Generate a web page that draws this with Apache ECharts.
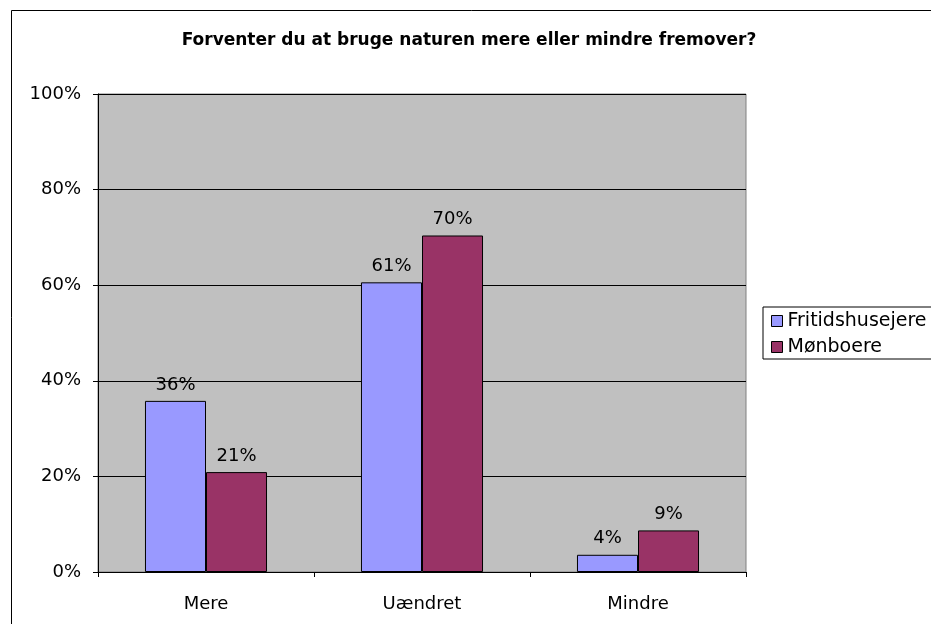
<!DOCTYPE html>
<html>
<head>
<meta charset="utf-8">
<script src="https://cdn.jsdelivr.net/npm/echarts@6/dist/echarts.min.js"></script>
<style>
  html, body { margin: 0; padding: 0; background: #fff; }
  #chart { width: 931px; height: 624px; }
</style>
</head>
<body>
<div id="chart"></div>
<script>
var categories = ['Mere', 'Uændret', 'Mindre'];
var fritidshusejere = [35.8, 60.6, 3.6];
var moenboere = [20.9, 70.4, 8.7];
var seriesNames = ['Fritidshusejere', 'Mønboere'];

var font = 'DejaVu Sans, Verdana, sans-serif';
var chart = echarts.init(document.getElementById('chart'), null, { renderer: 'canvas' });

function labelFmt(p) {
  return Math.round(p.value) + '%';
}

chart.setOption({
  animation: false,
  backgroundColor: '#fff',
  title: {
    text: 'Forventer du at bruge naturen mere eller mindre fremover?',
    left: 464,
    textAlign: 'center',
    top: 27,
    textStyle: { fontFamily: font, fontSize: 17, fontWeight: 'bold', color: '#000' }
  },
  graphic: [{
    type: 'rect',
    shape: { x: 11.5, y: 10.5, width: 1000, height: 1000 },
    style: { fill: null, stroke: '#000', lineWidth: 1 },
    silent: true
  }],
  legend: {
    data: seriesNames,
    orient: 'vertical',
    left: 763,
    top: 307,
    padding: [4, 60, 2, 8],
    itemWidth: 11,
    itemHeight: 11,
    itemGap: 6,
    borderColor: '#000',
    borderWidth: 1,
    icon: 'rect',
    itemStyle: { borderColor: '#000', borderWidth: 1 },
    textStyle: { fontFamily: font, fontSize: 19, lineHeight: 20, color: '#000' }
  },
  grid: {
    left: 98,
    top: 94,
    width: 648,
    height: 478,
    show: true,
    backgroundColor: '#c0c0c0',
    borderColor: '#808080',
    borderWidth: 1
  },
  xAxis: {
    type: 'category',
    data: categories,
    axisLine: { lineStyle: { color: '#000' } },
    axisTick: { show: true, length: 5, lineStyle: { color: '#000' } },
    axisLabel: { fontFamily: font, fontSize: 18, color: '#000', margin: 23 }
  },
  yAxis: {
    type: 'value',
    min: 0,
    max: 100,
    interval: 20,
    axisLine: { show: true, lineStyle: { color: '#000' } },
    axisTick: { show: true, length: 5, lineStyle: { color: '#000' } },
    axisLabel: { fontFamily: font, fontSize: 18, color: '#000', margin: 17, formatter: '{value}%' },
    splitLine: { show: true, lineStyle: { color: '#000', width: 1 } }
  },
  series: [{
    name: seriesNames[0],
    type: 'bar',
    data: fritidshusejere,
    barGap: '0%',
    barCategoryGap: '43.5%',
    itemStyle: { color: '#9999ff', borderColor: '#000', borderWidth: 1 },
    label: { show: true, position: 'top', distance: 7, formatter: labelFmt,
      fontFamily: font, fontSize: 18, color: '#000' }
  }, {
    name: seriesNames[1],
    type: 'bar',
    data: moenboere,
    barGap: '0%',
    barCategoryGap: '43.5%',
    itemStyle: { color: '#993366', borderColor: '#000', borderWidth: 1 },
    label: { show: true, position: 'top', distance: 7, formatter: labelFmt,
      fontFamily: font, fontSize: 18, color: '#000' }
  }]
});
</script>
</body>
</html>
